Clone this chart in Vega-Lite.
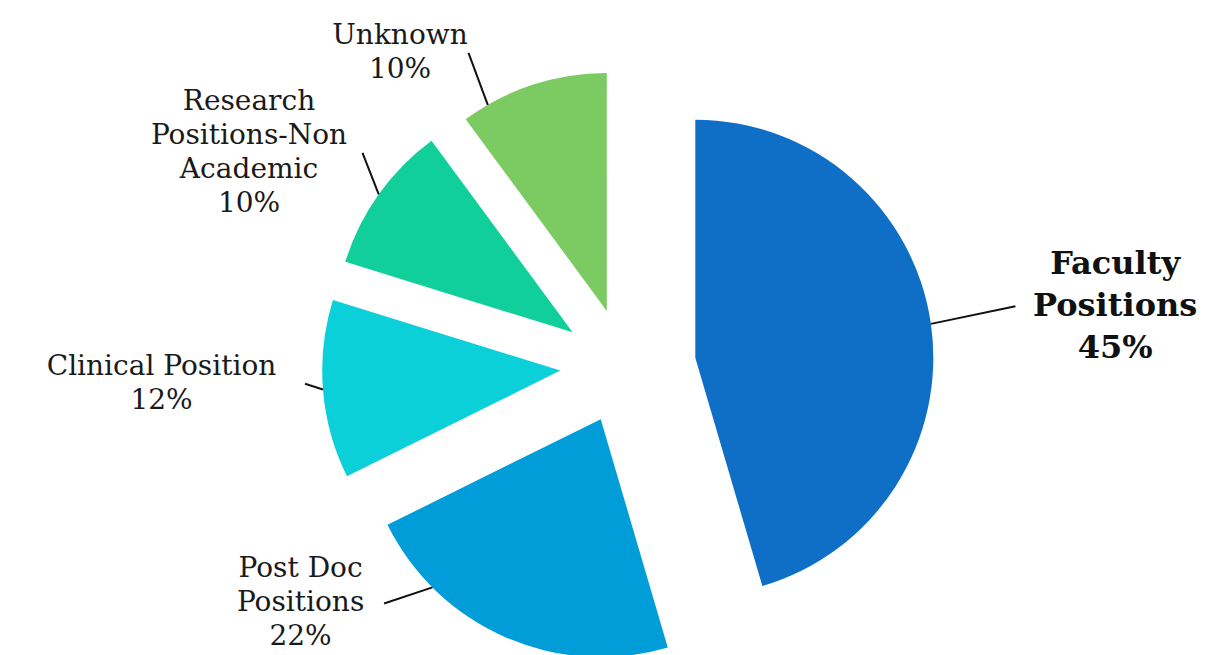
{
  "$schema": "https://vega.github.io/schema/vega-lite/v6.json",
  "width": 1228,
  "height": 655,
  "autosize": "none",
  "padding": 0,
  "background": "white",
  "config": {"view": {"stroke": null}},
  "data": {
    "values": [
      {"name": "Faculty Positions", "label": "Faculty\nPositions", "value": 45},
      {"name": "Post Doc Positions", "label": "Post Doc\nPositions", "value": 22},
      {"name": "Clinical Position", "label": "Clinical Position", "value": 12},
      {"name": "Research Positions-Non Academic", "label": "Research\nPositions-Non\nAcademic", "value": 10},
      {"name": "Unknown", "label": "Unknown", "value": 10}
    ]
  },
  "transform": [
    {"joinaggregate": [{"op": "sum", "field": "value", "as": "total"}, {"op": "max", "field": "value", "as": "maxv"}]},
    {"window": [{"op": "sum", "field": "value", "as": "cum"}], "frame": [null, 0]},
    {"calculate": "2*PI*(datum.cum-datum.value)/datum.total", "as": "a0"},
    {"calculate": "2*PI*datum.cum/datum.total", "as": "a1"},
    {"calculate": "(datum.a0+datum.a1)/2", "as": "mid"},
    {"calculate": "68*sin(datum.mid)", "as": "ex"},
    {"calculate": "58*cos(datum.mid)", "as": "ey"},
    {"calculate": "datum.mid*180/PI", "as": "md"},
    {"calculate": "(datum.md>180&&datum.md<225?225:(datum.md>135&&datum.md<=180?135:(datum.md>330?330:(datum.md<30?30:datum.md))))*PI/180", "as": "la"},
    {"calculate": "12+480*sin(datum.la)", "as": "lx"},
    {"calculate": "10+350*cos(datum.la)", "as": "ly"},
    {"calculate": "datum.ex+238*sin(datum.la)", "as": "sx"},
    {"calculate": "datum.ey+238*cos(datum.la)", "as": "sy"},
    {"calculate": "split(datum.label,'\\n')", "as": "lines"},
    {"calculate": "max(length(datum.lines[0]), length(datum.lines[1]||''), length(datum.lines[2]||''))", "as": "maxlen"},
    {"calculate": "datum.maxlen*(datum.value==datum.maxv?9.3:7.5)+16", "as": "hw"},
    {"calculate": "datum.lx-(sin(datum.la)>0?1:-1)*datum.hw", "as": "lex"},
    {"calculate": "datum.ly+length(datum.lines)/2*(datum.value==datum.maxv?42:34)", "as": "ty"},
    {"calculate": "datum.label+'\\n'+datum.value+'%'", "as": "txt"}
  ],
  "layer": [
    {
      "mark": {"type": "arc", "radius": 238},
      "encoding": {
        "theta": {"field": "a0", "type": "quantitative", "scale": {"domain": [0, 6.283185307179586]}},
        "theta2": {"field": "a1"},
        "x": {"field": "ex", "type": "quantitative", "scale": {"domain": [-628, 600], "nice": false, "zero": false}, "axis": null},
        "y": {"field": "ey", "type": "quantitative", "scale": {"domain": [-289, 366], "nice": false, "zero": false}, "axis": null},
        "color": {
          "field": "name",
          "type": "nominal",
          "scale": {
            "domain": ["Faculty Positions", "Post Doc Positions", "Clinical Position", "Research Positions-Non Academic", "Unknown"],
            "range": ["#0F6FC6", "#009DD9", "#0BD0D9", "#10CF9B", "#7CCA62"]
          },
          "legend": null
        }
      }
    },
    {
      "mark": {"type": "rule", "color": "#111111", "strokeWidth": 2},
      "encoding": {
        "x": {"field": "sx", "type": "quantitative"},
        "y": {"field": "sy", "type": "quantitative"},
        "x2": {"field": "lex"},
        "y2": {"field": "ly"}
      }
    },
    {
      "transform": [{"filter": "datum.value < datum.maxv"}],
      "mark": {"type": "text", "align": "center", "baseline": "middle", "font": "DejaVu Serif", "fontSize": 28, "lineHeight": 34, "lineBreak": "\n", "color": "#1a1a1a"},
      "encoding": {
        "x": {"field": "lx", "type": "quantitative"},
        "y": {"field": "ty", "type": "quantitative"},
        "text": {"field": "txt"}
      }
    },
    {
      "transform": [{"filter": "datum.value == datum.maxv"}],
      "mark": {"type": "text", "align": "center", "baseline": "middle", "font": "DejaVu Serif", "fontSize": 32, "fontWeight": "bold", "lineHeight": 42, "lineBreak": "\n", "color": "#111111"},
      "encoding": {
        "x": {"field": "lx", "type": "quantitative"},
        "y": {"field": "ty", "type": "quantitative"},
        "text": {"field": "txt"}
      }
    }
  ]
}
